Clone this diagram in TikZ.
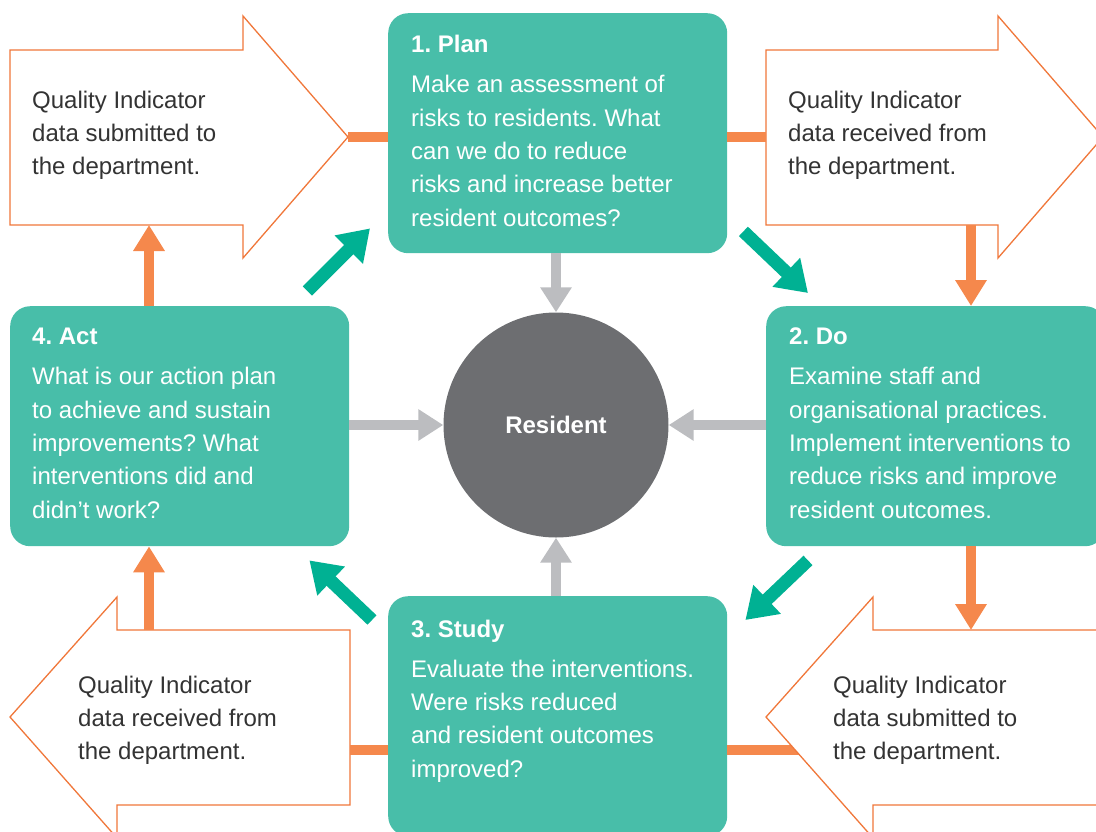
\documentclass[tikz,border=0pt]{standalone}
\usepackage{fontspec}
\setmainfont{Liberation Sans}
\usepackage{xcolor}
\usepackage{tikz}
\usetikzlibrary{arrows.meta}
\frenchspacing

\definecolor{stagefill}{HTML}{48BEA9}
\definecolor{cyclegreen}{HTML}{00B193}
\definecolor{qiline}{HTML}{F0773A}
\definecolor{qibarfill}{HTML}{F5884C}
\definecolor{hubgrey}{HTML}{BCBDC0}
\definecolor{hubfill}{HTML}{6D6E71}
\definecolor{qitextcol}{HTML}{333333}

\tikzset{
	stage/.style={fill=stagefill, rounded corners=20pt, minimum width=339pt, minimum height=240pt, inner sep=0pt, anchor=north west},
	stagetext/.style={text=white, align=left, anchor=base west, inner sep=0pt, font=\fontsize{24}{33.3}\selectfont},
	qishape/.style={draw=qiline, line width=1.3pt, fill=white},
	qitext/.style={text=qitextcol, align=left, anchor=base west, inner sep=0pt, font=\fontsize{24}{33}\selectfont},
	hub/.style={circle, fill=hubfill, minimum size=225pt, inner sep=0pt, text=white, font=\bfseries\fontsize{24}{28}\selectfont},
	hubarrow/.style={draw=hubgrey, line width=10pt, -{Triangle[width=30pt,length=25pt]}},
	cyclearrow/.style={draw=cyclegreen, line width=13pt, -{Triangle[width=38pt,length=30pt]}},
	qiarrow/.style={draw=qibarfill, line width=10pt, -{Triangle[width=30pt,length=26pt]}},
	qibar/.style={draw=qibarfill, line width=10pt},
}

\begin{document}
\begin{tikzpicture}[x=1pt, y=-1pt]
	\clip (0,0) rectangle (1096,831);
	
	% the four stages
	\node[stage] (plan) at (388,13) {};
	\node[stage] (do) at (766,306) {};
	\node[stage] (study) at (388,596) {};
	\node[stage] (act) at (10,306) {};
	\node[hub] (res) at (556,425) {Resident};
	
	% bar behind the lower right shape
	\coordinate (qd-bar) at (830,750);
	\draw[qibar] (study.east |- qd-bar) -- (qd-bar);
	
	% quality indicator shapes
	\draw[qishape] (10,50) -- (243,50) -- (243,16) -- (348,137) coordinate (qa-tip)
		-- (243,258) -- (243,225) -- (149,225) coordinate (qa-foot) -- (10,225) -- cycle;
	\draw[qishape] (766,50) -- (998,50) -- (998,16) -- (1103,137) -- (998,258) -- (998,225)
		-- (971,225) coordinate (qb-foot) -- (766,225) -- cycle;
	\coordinate (qb-back) at (766,137);
	\draw[qishape] (350,630) -- (149,630) coordinate (qc-head) -- (117,630) -- (117,597)
		-- (10,717) -- (117,838) -- (117,805) -- (350,805) -- cycle;
	\coordinate (qc-back) at (350,750);
	\draw[qishape] (1110,630) -- (971,630) coordinate (qd-head) -- (873,630) -- (873,597)
		-- (766,717) -- (873,838) -- (873,805) -- (1110,805) -- cycle;
	
	% anchored at the baseline of the last line
	\node[qitext] (qa-txt) at (32,174) {Quality Indicator\\data submitted to\\the department.};
	\node[qitext] (qb-txt) at (788,174) {Quality Indicator\\data received from\\the department.};
	\node[qitext] (qc-txt) at (78,759) {Quality Indicator\\data received from\\the department.};
	\node[qitext] (qd-txt) at (833,759) {Quality Indicator\\data submitted to\\the department.};
	
	% orange links
	\draw[qibar] (qa-tip) -- (plan.west |- qa-tip);
	\draw[qibar] (plan.east |- qb-back) -- (qb-back);
	\draw[qibar] (qc-back) -- (study.west |- qc-back);
	\draw[qiarrow] (act.north -| qa-foot) -- (qa-foot);
	\draw[qiarrow] (qb-foot) -- (do.north -| qb-foot);
	\draw[qiarrow] (do.south -| qd-head) -- (qd-head);
	\draw[qiarrow] (qc-head) -- (act.south -| qc-head);
	
	% stage texts
	\node[stagetext] (plan-txt) at (411,226) {\textbf{1. Plan}\\[6.7pt]Make an assessment of\\risks to residents. What\\can we do to reduce\\risks and increase better\\resident outcomes?};
	\node[stagetext] (do-txt) at (789,518) {\textbf{2. Do}\\[6.7pt]Examine staff and\\organisational practices.\\Implement interventions to\\reduce risks and improve\\resident outcomes.};
	\node[stagetext] (study-txt) at (411,777) {\textbf{3. Study}\\[6.7pt]Evaluate the interventions.\\Were risks reduced\\and resident outcomes\\improved?};
	\node[stagetext] (act-txt) at (32,518) {\textbf{4. Act}\\[6.7pt]What is our action plan\\to achieve and sustain\\improvements? What\\interventions did and\\didn’t work?};
	
	% into the resident
	\draw[hubarrow] (plan.south -| res) -- (res.north);
	\draw[hubarrow] (do.west |- res) -- (res.east);
	\draw[hubarrow] (study.north -| res) -- (res.south);
	\draw[hubarrow] (act.east |- res) -- (res.west);
	
	% the cycle
	\draw[cyclearrow] ([shift={(-42,-15)}]act.north east) -- ([shift={(-18,-25)}]plan.south west);
	\draw[cyclearrow] ([shift={(16,-22)}]plan.south east) -- ([shift={(42,-13)}]do.north west);
	\draw[cyclearrow] ([shift={(42,14)}]do.south west) -- ([shift={(18,24)}]study.north east);
	\draw[cyclearrow] ([shift={(-16,24)}]study.north west) -- ([shift={(-40,14)}]act.south east);
\end{tikzpicture}
\end{document}
